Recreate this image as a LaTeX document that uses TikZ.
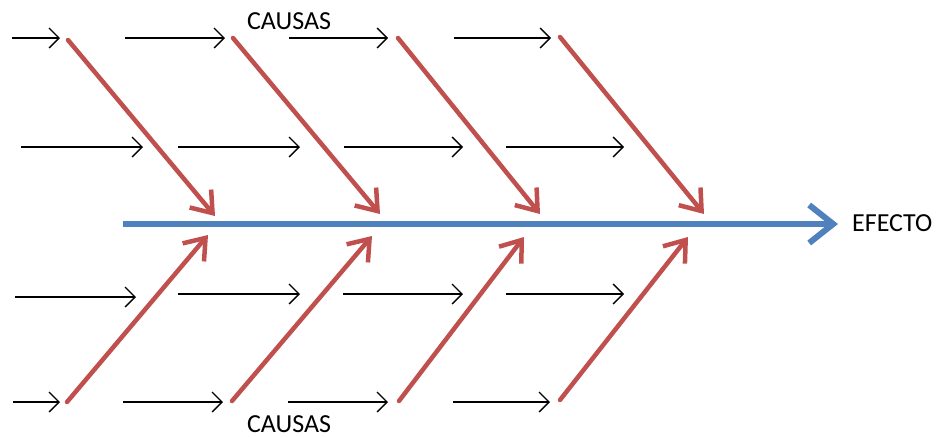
\documentclass[tikz,border=0pt]{standalone}
\usepackage{fontspec}
\setmainfont{Carlito}
\usetikzlibrary{arrows.meta}
\definecolor{espina}{HTML}{4F81BD}
\definecolor{causa}{HTML}{C0504D}
\tikzset{
	flecha/.style={black, line width=1.3pt, -{Straight Barb[length=10pt,width=20pt]}},
	hueso/.style={causa, line width=4.5pt, line cap=round, -{Straight Barb[length=19pt,width=28pt]}},
	espinazo/.style={espina, line width=6pt, -{Straight Barb[length=24pt,width=38pt]}},
	rotulo/.style={font=\fontsize{26}{30}\selectfont, inner sep=0pt},
}
\begin{document}
\begin{tikzpicture}[x=1pt,y=-1pt]
	\useasboundingbox (0,0) rectangle (937,437);
	% espina central y efecto
	\coordinate (ini) at (123,224);
	\coordinate (fin) at (838,224);
	\draw[espinazo] (ini) -- (fin);
	\node[rotulo, anchor=west] (efecto) at (852,223) {EFECTO};
	\node[rotulo] (causasA) at (289,21) {CAUSAS};
	\node[rotulo] (causasB) at (289,424) {CAUSAS};
	% huesos de arriba
	\coordinate (a1) at (68,40);  \coordinate (b1) at (215,216);
	\coordinate (a2) at (233,38); \coordinate (b2) at (380,214);
	\coordinate (a3) at (398,38); \coordinate (b3) at (540,214);
	\coordinate (a4) at (560,37); \coordinate (b4) at (704,214);
	\draw[hueso] (a1) -- (b1);
	\draw[hueso] (a2) -- (b2);
	\draw[hueso] (a3) -- (b3);
	\draw[hueso] (a4) -- (b4);
	% huesos de abajo
	\coordinate (c1) at (67,402);  \coordinate (d1) at (208,235);
	\coordinate (c2) at (232,401); \coordinate (d2) at (372,236);
	\coordinate (c3) at (399,401); \coordinate (d3) at (524,237);
	\coordinate (c4) at (560,400); \coordinate (d4) at (688,237);
	\draw[hueso] (c1) -- (d1);
	\draw[hueso] (c2) -- (d2);
	\draw[hueso] (c3) -- (d3);
	\draw[hueso] (c4) -- (d4);
	% subcausas, fila 1
	\coordinate (p11) at (12,38);  \coordinate (q11) at (60,38);
	\coordinate (p12) at (125,38); \coordinate (q12) at (225,38);
	\coordinate (p13) at (289,38); \coordinate (q13) at (388,38);
	\coordinate (p14) at (454,38); \coordinate (q14) at (551,38);
	% fila 2
	\coordinate (p21) at (21,147);  \coordinate (q21) at (143,147);
	\coordinate (p22) at (178,147); \coordinate (q22) at (300,147);
	\coordinate (p23) at (344,147); \coordinate (q23) at (463,147);
	\coordinate (p24) at (506,147); \coordinate (q24) at (624,147);
	% fila 3
	\coordinate (p31) at (15,297);  \coordinate (q31) at (136,297);
	\coordinate (p32) at (178,294); \coordinate (q32) at (300,294);
	\coordinate (p33) at (343,294); \coordinate (q33) at (463,294);
	\coordinate (p34) at (506,294); \coordinate (q34) at (624,294);
	% fila 4
	\coordinate (p41) at (13,402);  \coordinate (q41) at (60,402);
	\coordinate (p42) at (123,402); \coordinate (q42) at (223,402);
	\coordinate (p43) at (288,402); \coordinate (q43) at (388,402);
	\coordinate (p44) at (453,402); \coordinate (q44) at (550,402);
	\draw[flecha] (p11) -- (q11);
	\draw[flecha] (p12) -- (q12);
	\draw[flecha] (p13) -- (q13);
	\draw[flecha] (p14) -- (q14);
	\draw[flecha] (p21) -- (q21);
	\draw[flecha] (p22) -- (q22);
	\draw[flecha] (p23) -- (q23);
	\draw[flecha] (p24) -- (q24);
	\draw[flecha] (p31) -- (q31);
	\draw[flecha] (p32) -- (q32);
	\draw[flecha] (p33) -- (q33);
	\draw[flecha] (p34) -- (q34);
	\draw[flecha] (p41) -- (q41);
	\draw[flecha] (p42) -- (q42);
	\draw[flecha] (p43) -- (q43);
	\draw[flecha] (p44) -- (q44);
\end{tikzpicture}
\end{document}
